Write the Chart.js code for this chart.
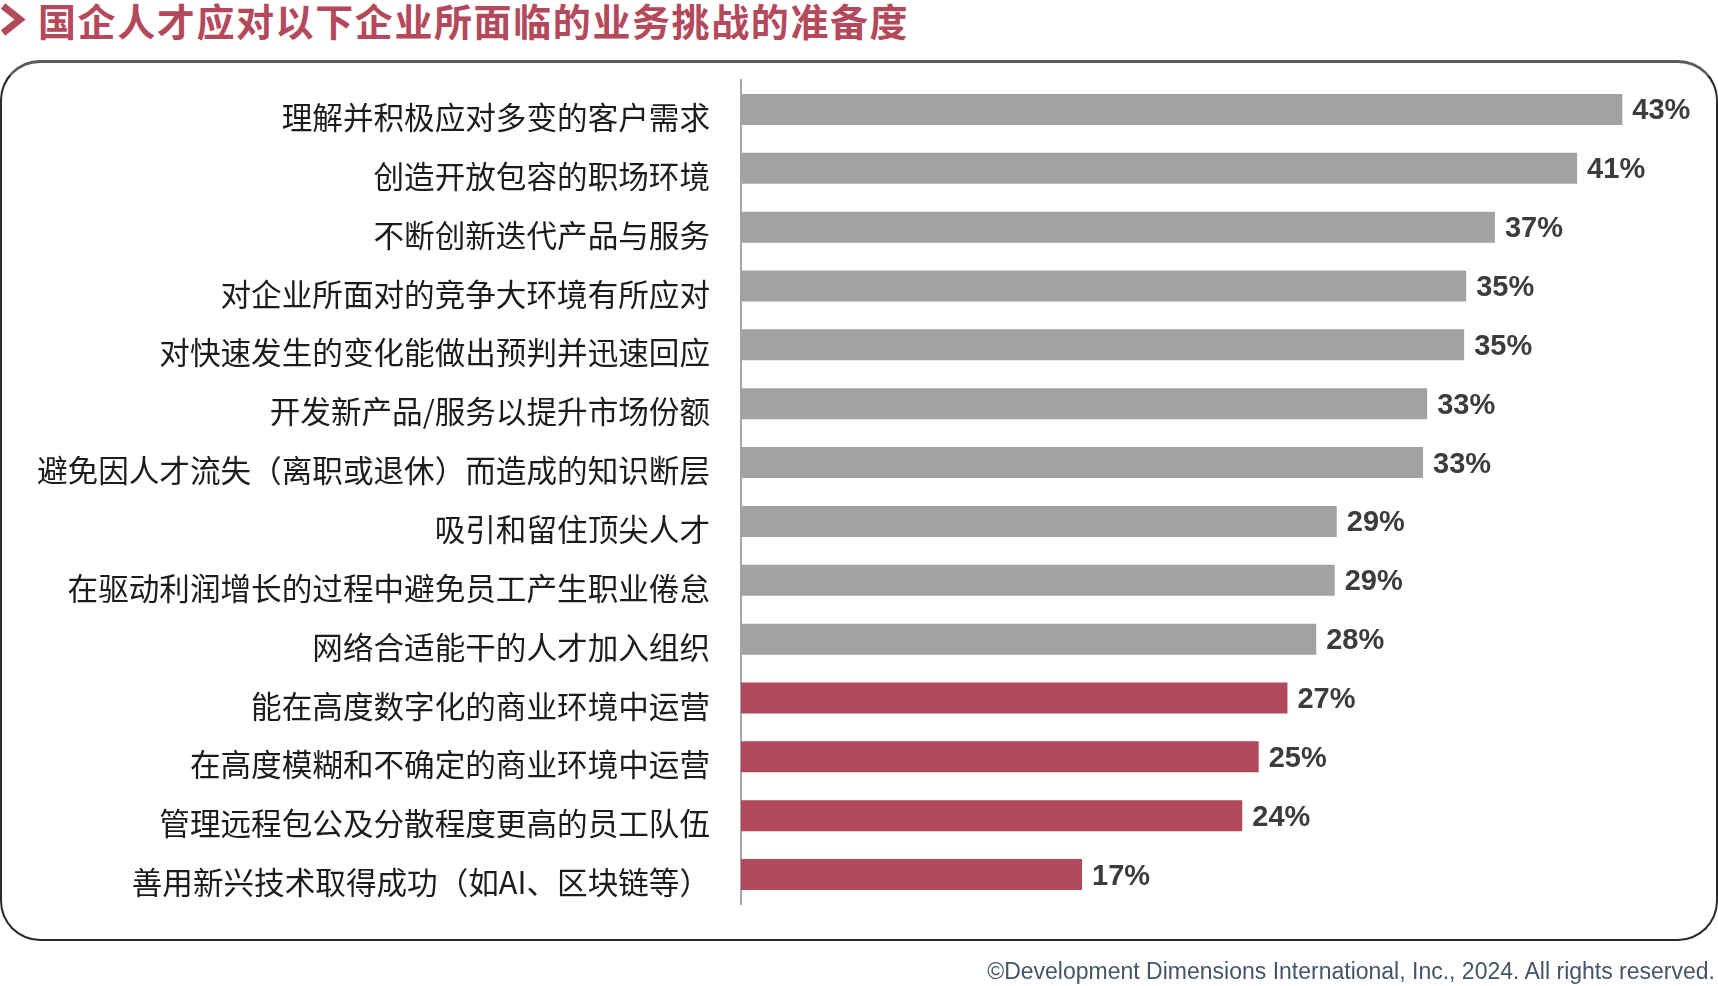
<!DOCTYPE html>
<html>
<head>
<meta charset="utf-8">
<script src="https://cdn.jsdelivr.net/npm/chart.js@4.4.1/dist/chart.umd.min.js"></script>
<style>
  body { margin: 0; background: #fff; }
  #page { position: relative; width: 1718px; height: 986px; overflow: hidden; }
  #title {
    position: absolute; left: 38px; top: 0px;
    font-family: "Noto Sans CJK SC", sans-serif; font-weight: 700;
    font-size: 38px; line-height: 40px; letter-spacing: 1.6px;
    color: #b4495b; white-space: nowrap;
  }
  #chevron { position: absolute; left: 0; top: 3px; }
  #box {
    position: absolute; left: 0; top: 60px; width: 1718px; height: 881px;
    box-sizing: border-box; border: 2px solid #2a2a2a; border-top: 3px solid #5a5a5a;
    border-radius: 40px;
  }
  #chart { position: absolute; left: 0; top: 0; }
  #copy {
    position: absolute; right: 3px; top: 960px;
    font-family: "Liberation Sans", Arial, sans-serif; font-size: 23px; line-height: 23px;
    color: #44546a; white-space: nowrap;
  }
</style>
</head>
<body>
<div id="page">
  <svg id="chevron" width="28" height="34"><polyline points="3,3 20,16.5 3,30" fill="none" stroke="#b4495b" stroke-width="7" stroke-linejoin="miter"/></svg>
  <div id="title">国企人才应对以下企业所面临的业务挑战的准备度</div>
  <div id="box"></div>
  <canvas id="chart" width="1718" height="986"></canvas>
  <div id="copy">©Development Dimensions International, Inc., 2024. All rights reserved.</div>
</div>
<script>
// categories, top to bottom
const challenges = [
  "理解并积极应对多变的客户需求",
  "创造开放包容的职场环境",
  "不断创新迭代产品与服务",
  "对企业所面对的竞争大环境有所应对",
  "对快速发生的变化能做出预判并迅速回应",
  "开发新产品/服务以提升市场份额",
  "避免因人才流失（离职或退休）而造成的知识断层",
  "吸引和留住顶尖人才",
  "在驱动利润增长的过程中避免员工产生职业倦怠",
  "网络合适能干的人才加入组织",
  "能在高度数字化的商业环境中运营",
  "在高度模糊和不确定的商业环境中运营",
  "管理远程包公及分散程度更高的员工队伍",
  "善用新兴技术取得成功（如AI、区块链等）"
];

// % of respondents (bar lengths, labels are rounded)
const readiness = [42.9, 40.7, 36.7, 35.3, 35.2, 33.4, 33.2, 29.0, 28.9, 28.0, 26.6, 25.2, 24.4, 16.6];

// the last four rows are highlighted in red
const firstHighlighted = 10;

const GREY = "#a2a2a4";
const RED = "#b2495a";

// value labels at the end of each bar
const valueLabels = {
  id: "valueLabels",
  afterDatasetsDraw(chart) {
    const ctx = chart.ctx;
    const meta = chart.getDatasetMeta(0);
    ctx.save();
    ctx.font = "bold 29px 'Liberation Sans', Arial, sans-serif";
    ctx.fillStyle = "#3c3c3c";
    ctx.textAlign = "left";
    ctx.textBaseline = "middle";
    meta.data.forEach((bar, i) => {
      const v = chart.data.datasets[0].data[i];
      ctx.fillText(Math.round(v) + "%", bar.x + 10, bar.y + 2);
    });
    ctx.restore();
  }
};

new Chart(document.getElementById("chart"), {
  type: "bar",
  data: {
    labels: challenges,
    datasets: [{
      data: readiness,
      backgroundColor: ctx => ctx.dataIndex >= firstHighlighted ? RED : GREY,
      borderWidth: 0,
      barPercentage: 0.527,
      categoryPercentage: 1
    }]
  },
  options: {
    indexAxis: "y",
    responsive: false,
    animation: false,
    devicePixelRatio: 1,
    layout: { padding: { top: 80, bottom: 82, left: 0, right: 32 } },
    plugins: { legend: { display: false }, tooltip: { enabled: false } },
    scales: {
      x: { display: false, min: 0, max: 46 },
      y: {
        afterFit(scale) { scale.width = 741; },
        grid: { display: false, drawTicks: false },
        border: { display: true, color: "#a6a6a6", width: 2 },
        ticks: {
          padding: 31,
          labelOffset: 8,
          color: "#1c1c1c",
          font: { family: "'Noto Sans CJK SC', sans-serif", size: 30.6 }
        }
      }
    }
  },
  plugins: [valueLabels]
});
</script>
</body>
</html>
